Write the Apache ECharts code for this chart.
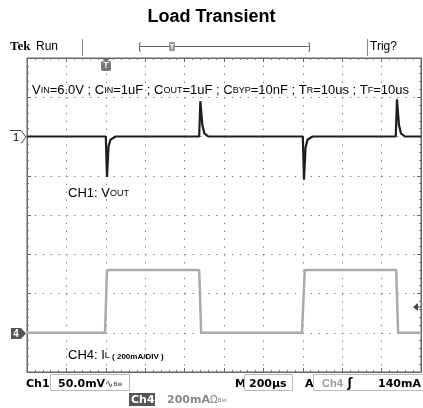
<!DOCTYPE html>
<html>
<head>
<meta charset="utf-8">
<script src="https://cdn.jsdelivr.net/npm/echarts@6/dist/echarts.min.js"></script>
<style>
  html, body { margin: 0; padding: 0; background: #fff; }
  #chart { width: 423px; height: 408px; }
</style>
</head>
<body>
<div id="chart"></div>
<script>
// x in divisions (200us/div), y in divisions (8 div screen, 0 = centre)
const ch1Time  = [0, 2.0, 2.03, 2.07, 2.12, 2.25, 4.37, 4.40, 4.45, 4.50, 4.60, 7.0, 7.03, 7.07, 7.12, 7.25, 9.36, 9.39, 9.44, 9.49, 9.59, 10];
const ch1Level = [2, 2, 0.97, 1.75, 1.92, 2, 2, 2.9, 2.3, 2.08, 2, 2, 0.9, 1.72, 1.92, 2, 2, 2.95, 2.3, 2.08, 2, 2];
const ch4Time  = [0, 1.98, 2.03, 4.37, 4.42, 6.98, 7.05, 9.37, 9.42, 10];
const ch4Level = [-3, -3, -1.4, -1.4, -3, -3, -1.4, -1.4, -3, -3];

const chart = echarts.init(document.getElementById('chart'));

const zip = (xs, ys) => xs.map((x, i) => [x, ys[i]]);

const borderAxis = (pos, isX) => ({
    type: 'value',
    position: pos,
    min: isX ? 0 : -4,
    max: isX ? 10 : 4,
    interval: 1,
    axisLabel: { show: false },
    axisLine: { show: true, onZero: false, lineStyle: { color: '#666', width: 1 } },
    axisTick: { show: true, inside: true, length: 4, lineStyle: { color: '#666' } },
    minorTick: { show: true, splitNumber: 5, length: 2, lineStyle: { color: '#777' } },
    splitLine: { show: false }
});

const statusFont = 'bold 11px "DejaVu Sans"';
const sub = { font: '9px "Liberation Sans"', fill: '#000', verticalAlign: 'bottom', padding: [0, 0, 1, 0] };
const norm = { font: '13px "Liberation Sans"', fill: '#000', verticalAlign: 'bottom' };

const option = {
    animation: false,
    backgroundColor: '#fff',
    title: {
        text: 'Load Transient',
        left: 'center',
        top: 3,
        textStyle: { fontFamily: 'Liberation Sans', fontSize: 18, fontWeight: 'bold', color: '#000' }
    },
    grid: { left: 27, right: 2, top: 58, bottom: 36, show: true, borderColor: '#666', borderWidth: 1 },
    xAxis: [
        Object.assign(borderAxis('bottom', true), {
            splitLine: { show: true, lineStyle: { color: '#777', type: [1.3, 6.55], width: 1 } }
        }),
        borderAxis('top', true)
    ],
    yAxis: [
        Object.assign(borderAxis('left', false), {
            splitLine: { show: true, lineStyle: { color: '#777', type: [1.3, 6.58], width: 1 } }
        }),
        borderAxis('right', false)
    ],
    series: [
        {
            name: 'CH4',
            type: 'line',
            data: zip(ch4Time, ch4Level),
            showSymbol: false,
            lineStyle: { color: '#aaa', width: 2.5 }
        },
        {
            name: 'CH1',
            type: 'line',
            data: zip(ch1Time, ch1Level),
            showSymbol: false,
            lineStyle: { color: '#1e1e1e', width: 2.2 }
        }
    ],
    graphic: [
        // top status line
        { type: 'text', x: 10, y: 47, style: { text: 'Tek', font: 'bold 13px "Liberation Serif"', fill: '#000', textVerticalAlign: 'middle' } },
        { type: 'text', x: 36, y: 47, style: { text: 'Run', font: '12px "Liberation Sans"', fill: '#000', textVerticalAlign: 'middle' } },
        { type: 'line', shape: { x1: 82.5, y1: 39, x2: 82.5, y2: 56 }, style: { stroke: '#888', lineWidth: 1 } },
        { type: 'line', shape: { x1: 367.5, y1: 39, x2: 367.5, y2: 56 }, style: { stroke: '#888', lineWidth: 1 } },
        { type: 'polyline', shape: { points: [[141, 43], [139.5, 43], [139.5, 51], [141, 51]] }, style: { stroke: '#666', fill: null } },
        { type: 'line', shape: { x1: 139.5, y1: 46.5, x2: 309.5, y2: 46.5 }, style: { stroke: '#666', lineWidth: 1 } },
        { type: 'polyline', shape: { points: [[308, 43], [309.5, 43], [309.5, 51], [308, 51]] }, style: { stroke: '#666', fill: null } },
        { type: 'rect', shape: { x: 169, y: 42, width: 6, height: 9, r: 1 }, style: { fill: '#999' } },
        { type: 'text', x: 172, y: 47, style: { text: 'T', font: 'bold 7px "Liberation Sans"', fill: '#fff', textAlign: 'center', textVerticalAlign: 'middle' } },
        { type: 'text', x: 370, y: 47, style: { text: 'Trig?', font: '12px "Liberation Sans"', fill: '#000', textVerticalAlign: 'middle' } },

        // trigger position marker
        { type: 'polygon', shape: { points: [[101, 58], [111, 58], [106, 62]] }, style: { fill: '#777' } },
        { type: 'rect', shape: { x: 101, y: 61, width: 10, height: 10, r: 2 }, style: { fill: '#777' } },
        { type: 'text', x: 106, y: 66, style: { text: 'T', font: 'bold 9px "Liberation Sans"', fill: '#fff', textAlign: 'center', textVerticalAlign: 'middle' } },

        // conditions
        {
            type: 'text', x: 32, y: 90,
            style: {
                text: '{n|V}{s|IN}{n|=6.0V ; C}{s|IN}{n|=1uF ; C}{s|OUT}{n|=1uF ; C}{s|BYP}{n|=10nF ; T}{s|R}{n|=10us ; T}{s|F}{n|=10us}',
                textVerticalAlign: 'middle',
                rich: { n: norm, s: sub }
            }
        },

        // channel labels
        {
            type: 'text', x: 68, y: 193,
            style: { text: '{n|CH1: V}{s|OUT}', textVerticalAlign: 'middle', rich: { n: norm, s: sub } }
        },
        {
            type: 'text', x: 68, y: 355,
            style: {
                text: '{n|CH4: I}{s|L}{b| ( 200mA/DIV )}',
                textVerticalAlign: 'middle',
                rich: {
                    n: norm, s: sub,
                    b: { font: 'bold 8px "Liberation Sans"', fill: '#000', verticalAlign: 'bottom', padding: [0, 0, 1, 0] }
                }
            }
        },

        // channel 1 ground marker
        { type: 'polyline', shape: { points: [[10, 130.5], [21, 130.5], [26, 137], [21, 143.5]] }, style: { stroke: '#444', fill: null, lineWidth: 1 } },
        { type: 'text', x: 16, y: 138, style: { text: '1', font: '11px "Liberation Sans"', fill: '#000', textAlign: 'center', textVerticalAlign: 'middle' } },

        // channel 4 ground marker
        { type: 'rect', shape: { x: 11, y: 328, width: 10, height: 11 }, style: { fill: '#555' } },
        { type: 'polygon', shape: { points: [[21, 328], [26, 333.5], [21, 339]] }, style: { fill: '#555' } },
        { type: 'text', x: 16, y: 334, style: { text: '4', font: 'bold 10px "Liberation Sans"', fill: '#fff', textAlign: 'center', textVerticalAlign: 'middle' } },

        // trigger level marker
        { type: 'polygon', shape: { points: [[413, 307], [418, 303], [418, 311]] }, style: { fill: '#444' } },
        { type: 'line', shape: { x1: 418, y1: 307, x2: 422, y2: 307 }, style: { stroke: '#444', lineWidth: 1 } },

        // bottom status line
        { type: 'text', x: 26, y: 384, style: { text: 'Ch1', font: statusFont, fill: '#000', textVerticalAlign: 'middle' } },
        { type: 'rect', shape: { x: 50.5, y: 374.5, width: 79, height: 16 }, style: { stroke: '#bbb', fill: null, lineWidth: 1 } },
        {
            type: 'text', x: 58, y: 384,
            style: {
                text: '{a|50.0mV}{b|∿}{c|Bw}',
                textVerticalAlign: 'middle',
                rich: {
                    a: { font: statusFont, fill: '#000' },
                    b: { font: '10px "DejaVu Sans"', fill: '#333' },
                    c: { font: '6px "DejaVu Sans"', fill: '#333' }
                }
            }
        },
        { type: 'text', x: 235, y: 384, style: { text: 'M', font: statusFont, fill: '#000', textVerticalAlign: 'middle' } },
        { type: 'rect', shape: { x: 244.5, y: 374.5, width: 48, height: 16 }, style: { stroke: '#bbb', fill: null, lineWidth: 1 } },
        { type: 'text', x: 249, y: 384, style: { text: '200µs', font: statusFont, fill: '#000', textVerticalAlign: 'middle' } },
        { type: 'text', x: 305, y: 384, style: { text: 'A', font: statusFont, fill: '#000', textVerticalAlign: 'middle' } },
        { type: 'rect', shape: { x: 313.5, y: 374.5, width: 112, height: 16 }, style: { stroke: '#bbb', fill: null, lineWidth: 1 } },
        { type: 'text', x: 322, y: 384, style: { text: 'Ch4', font: 'bold 11px "Liberation Sans"', fill: '#999', textVerticalAlign: 'middle' } },
        { type: 'text', x: 350, y: 384, style: { text: 'ʃ', font: 'bold 12px "DejaVu Sans"', fill: '#000', textAlign: 'center', textVerticalAlign: 'middle' } },
        { type: 'text', x: 421, y: 384, style: { text: '140mA', font: statusFont, fill: '#000', textAlign: 'right', textVerticalAlign: 'middle' } },
        { type: 'rect', shape: { x: 129, y: 393, width: 26, height: 13 }, style: { fill: '#555' } },
        { type: 'text', x: 131, y: 400, style: { text: 'Ch4', font: statusFont, fill: '#fff', textVerticalAlign: 'middle' } },
        {
            type: 'text', x: 167, y: 400,
            style: {
                text: '{a|200mA}{b|Ω}{c|Bw}',
                textVerticalAlign: 'middle',
                rich: {
                    a: { font: statusFont, fill: '#888' },
                    b: { font: '10px "DejaVu Sans"', fill: '#888' },
                    c: { font: '6px "DejaVu Sans"', fill: '#888' }
                }
            }
        }
    ]
};

chart.setOption(option);
</script>
</body>
</html>
